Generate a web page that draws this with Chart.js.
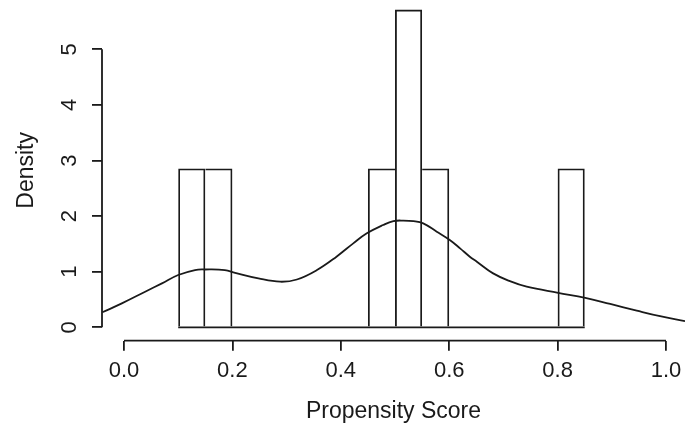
<!DOCTYPE html>
<html>
<head>
<meta charset="utf-8">
<script src="https://cdn.jsdelivr.net/npm/chart.js@4.4.1/dist/chart.umd.min.js"></script>
<style>
  html, body { margin: 0; padding: 0; background: #fff; }
</style>
</head>
<body>
<canvas id="hist" width="685" height="432"></canvas>
<script>
/* ── data ─────────────────────────────────────────── */
const breaks = [0.10, 0.15, 0.20, 0.25, 0.30, 0.35, 0.40, 0.45, 0.50, 0.55, 0.60, 0.65, 0.70, 0.75, 0.80, 0.85];
const density = [2.857, 2.857, 0, 0, 0, 0, 0, 2.857, 5.714, 2.857, 0, 0, 0, 0, 2.857];

// kernel density curve
const curveX = [-0.040, -0.004, 0.039, 0.070, 0.100, 0.131, 0.149, 0.186, 0.205, 0.248, 0.288, 0.319, 0.356, 0.392, 0.423,
                0.448, 0.478, 0.497, 0.515, 0.534, 0.552, 0.577, 0.601, 0.620, 0.638, 0.651, 0.681, 0.712, 0.743, 0.801,
                0.851, 0.897, 0.946, 0.989, 1.035];
const curveY = [0.27, 0.43, 0.64, 0.79, 0.94, 1.03, 1.04, 1.03, 0.98, 0.88, 0.82, 0.86, 1.03, 1.27, 1.51,
                1.69, 1.84, 1.91, 1.92, 1.91, 1.87, 1.72, 1.57, 1.42, 1.27, 1.18, 0.97, 0.83, 0.73, 0.62,
                0.53, 0.42, 0.30, 0.20, 0.11];

const xTicks = [0.0, 0.2, 0.4, 0.6, 0.8, 1.0];
const yTicks = [0, 1, 2, 3, 4, 5];

const xTitle = "Propensity Score";
const yTitle = "Density";

/* ── helpers ──────────────────────────────────────── */
const FONT = "'Liberation Sans', Arial, sans-serif";
const INK = "#1a1a1a";
const LW = 1.8;

const bars = density.map((d, i) => ({ x: (breaks[i] + breaks[i + 1]) / 2, y: d }));
const curve = curveX.map((x, i) => ({ x, y: curveY[i] }));
const baseline = [{ x: breaks[0], y: 0 }, { x: breaks[breaks.length - 1], y: 0 }];

// shared edges: only the taller neighbour draws the line; bottom comes from the baseline
const barBorder = ctx => {
    const i = ctx.dataIndex;
    const h = density[i];
    const skipLeft = i > 0 && density[i - 1] >= h;
    const skipRight = i < density.length - 1 && density[i + 1] > h;
    return { top: LW, bottom: 0, left: skipLeft ? 0 : LW, right: skipRight ? 0 : LW };
};

// R style axes: line only spans first..last tick
const rAxes = {
    id: "rAxes",
    afterDraw(chart) {
        const { ctx, chartArea, scales: { x, y } } = chart;
        ctx.save();
        ctx.strokeStyle = INK;
        ctx.lineWidth = LW;
        ctx.beginPath();
        ctx.moveTo(x.getPixelForValue(xTicks[0]), chartArea.bottom);
        ctx.lineTo(x.getPixelForValue(xTicks[xTicks.length - 1]), chartArea.bottom);
        ctx.moveTo(chartArea.left, y.getPixelForValue(yTicks[0]));
        ctx.lineTo(chartArea.left, y.getPixelForValue(yTicks[yTicks.length - 1]));
        ctx.stroke();
        ctx.restore();
    },
};

/* ── chart ────────────────────────────────────────── */
new Chart(document.getElementById("hist"), {
    data: {
        datasets: [
            {
                type: "line",
                data: curve,
                borderColor: INK,
                borderWidth: LW,
                pointRadius: 0,
                tension: 0.4,
            },
            {
                type: "line",
                data: baseline,
                borderColor: INK,
                borderWidth: LW,
                pointRadius: 0,
            },
            {
                type: "bar",
                data: bars,
                backgroundColor: "rgba(0,0,0,0)",
                borderColor: INK,
                borderWidth: barBorder,
                borderSkipped: false,
                inflateAmount: 0,
                barPercentage: 1,
                categoryPercentage: 1,
            },
        ],
    },
    options: {
        responsive: false,
        animation: false,
        devicePixelRatio: 1,
        layout: { padding: 0 },
        plugins: { legend: { display: false }, tooltip: { enabled: false } },
        scales: {
            x: {
                type: "linear",
                offset: false,
                min: -0.0406,
                max: 1.035,
                afterBuildTicks: s => { s.ticks = xTicks.map(v => ({ value: v })); },
                afterFit: s => { s.height = 91.3; s.paddingLeft = 0; s.paddingRight = 0; },
                grid: { offset: false, drawOnChartArea: false, tickLength: 10, color: INK, lineWidth: LW },
                border: { display: false },
                ticks: {
                    color: INK,
                    padding: 7,
                    font: { family: FONT, size: 22 },
                    callback: v => v.toFixed(1),
                },
                title: {
                    display: true,
                    text: xTitle,
                    color: INK,
                    font: { family: FONT, size: 23 },
                    padding: { top: 0, bottom: 7 },
                },
            },
            y: {
                type: "linear",
                min: -0.241,
                max: 5.887,
                afterBuildTicks: s => { s.ticks = yTicks.map(v => ({ value: v })); },
                afterFit: s => { s.width = 102; s.paddingTop = 0; s.paddingBottom = 0; },
                grid: { drawOnChartArea: false, tickLength: 10, color: INK, lineWidth: LW },
                border: { display: false },
                ticks: {
                    color: INK,
                    padding: 16,
                    minRotation: 90,
                    maxRotation: 90,
                    crossAlign: "center",
                    font: { family: FONT, size: 22 },
                    callback: v => String(v),
                },
                title: {
                    display: true,
                    text: yTitle,
                    color: INK,
                    font: { family: FONT, size: 23 },
                    padding: { top: 13, bottom: 0 },
                },
            },
        },
    },
    plugins: [rAxes],
});
</script>
</body>
</html>
